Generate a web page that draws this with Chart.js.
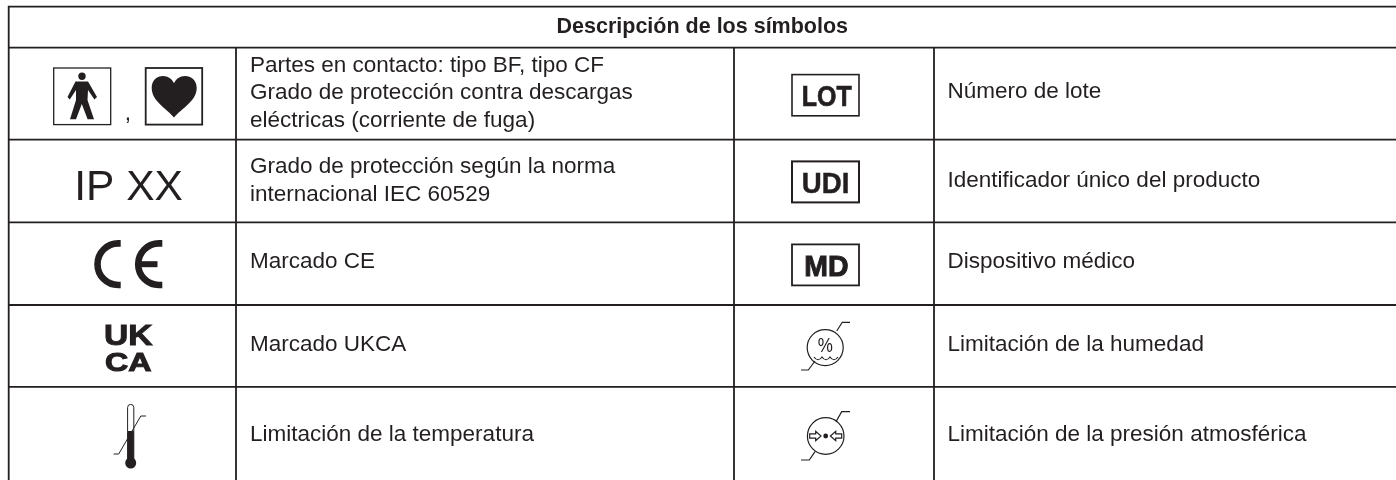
<!DOCTYPE html>
<html lang="es"><head><meta charset="utf-8">
<style>html,body{margin:0;padding:0;background:#fff}canvas{display:block}</style>
<script src="https://cdn.jsdelivr.net/npm/chart.js@4"></script></head>
<body><canvas id="c" width="1396" height="480"></canvas>
<script>
const title = "Descripción de los símbolos";
const leftDescriptions = [
  ["Partes en contacto: tipo BF, tipo CF","Grado de protección contra descargas","eléctricas (corriente de fuga)"],
  ["Grado de protección según la norma","internacional IEC 60529"],
  ["Marcado CE"],["Marcado UKCA"],["Limitación de la temperatura"]];
const rightDescriptions = ["Número de lote","Identificador único del producto","Dispositivo médico","Limitación de la humedad","Limitación de la presión atmosférica"];
const rowEdges = [6.6,47.6,139.7,222.4,305,386.8,480];
const colEdges = [8.7,236,734,934,1396];
const INK = "#231f20";

function ruleData(){
  const d=[];
  for(let i=0;i<6;i++){ d.push({x:colEdges[0],y:rowEdges[i]},{x:colEdges[4],y:rowEdges[i]},{x:null,y:null}); }
  d.push({x:colEdges[0],y:rowEdges[0]-.8},{x:colEdges[0],y:rowEdges[6]},{x:null,y:null});
  for(let j=1;j<4;j++){ d.push({x:colEdges[j],y:rowEdges[1]},{x:colEdges[j],y:rowEdges[6]},{x:null,y:null}); }
  return d;
}
function stroke(c,lw,pts){c.lineWidth=lw;c.beginPath();pts.forEach((p,i)=>i?c.lineTo(p[0],p[1]):c.moveTo(p[0],p[1]));c.stroke();}
function fill(c,pts){c.beginPath();pts.forEach((p,i)=>i?c.lineTo(p[0],p[1]):c.moveTo(p[0],p[1]));c.closePath();c.fill();}
function stretched(c,t,cx,base,font,sx,extra){c.save();c.font=font;c.translate(cx,base);c.scale(sx,1);c.textAlign="center";c.textBaseline="alphabetic";c.fillText(t,0,0);if(extra){c.lineWidth=extra;c.lineJoin="miter";c.strokeText(t,0,0);}c.restore();}

const symbols = {
 person(c){ c.lineWidth=1.3;c.strokeRect(53.7,68,57,56.6);
   c.beginPath();c.arc(82,76.3,3.7,0,7);c.fill();
   fill(c,[[75.5,81.5],[88,81.5],[97,97],[94.4,99.5],[88,90],[87.5,100],[94,119.3],[87.6,119.3],[81.8,104],[76,119.3],[70,119.3],[76,100],[76,90],[69.8,99.5],[67.5,97]]);
 },
 comma(c){ c.font="22.5px 'Liberation Sans'";c.textAlign="center";c.fillText(",",128,120); },
 heart(c){ c.lineWidth=1.8;c.strokeRect(145.7,68,56.5,56.6);
   c.beginPath();c.moveTo(174,117.5);c.bezierCurveTo(166,108,151.7,101,151.7,88);c.bezierCurveTo(151.7,80,157,76,163,76);c.bezierCurveTo(168,76,172,79,174,83.3);c.bezierCurveTo(176,79,180,76,185,76);c.bezierCurveTo(191,76,196.7,80,196.7,88);c.bezierCurveTo(196.7,101,182,108,174,117.5);c.fill();
 },
 ip(c){ c.font="42.5px 'Liberation Sans'";c.textAlign="center";c.fillText("IP XX",128.5,200); },
 ce(c){ c.lineWidth=6.6;
   c.beginPath();c.moveTo(120.7,243.4);c.lineTo(118.3,243.4);c.arc(118.3,264.2,20.8,-Math.PI/2,Math.PI/2,true);c.lineTo(120.7,285);c.stroke();
   c.beginPath();c.moveTo(162.3,243.4);c.lineTo(159,243.4);c.arc(159,264.2,20.8,-Math.PI/2,Math.PI/2,true);c.lineTo(162.3,285);c.stroke();
   c.fillRect(140,261.2,17.5,6);
 },
 ukca(c){ stretched(c,"UK",128.2,345,"bold 30px 'Liberation Sans'",1.12,1);stretched(c,"CA",128.2,371,"bold 26px 'Liberation Sans'",1.24,1); },
 thermo(c){ c.lineWidth=1;
   c.beginPath();c.moveTo(127.6,462);c.lineTo(127.6,407.5);c.arc(130.7,407.5,3.1,Math.PI,0);c.lineTo(133.8,462);c.stroke();
   c.fillRect(127.6,431,6.2,30);c.beginPath();c.arc(130.7,463,5.5,0,7);c.fill();
   stroke(c,1,[[113.7,454],[118.7,454],[140.8,416],[146,416]]);
 },
 lot(c){ c.lineWidth=1.6;c.strokeRect(792,74.6,67,41.2);stretched(c,"LOT",826.7,106,"bold 29px 'Liberation Sans'",.86,.7); },
 udi(c){ c.lineWidth=2;c.strokeRect(792,161.4,67,41);stretched(c,"UDI",825.6,193,"bold 30px 'Liberation Sans'",.92,.5); },
 md(c){ c.lineWidth=1.8;c.strokeRect(792,244.4,67,41);stretched(c,"MD",826.3,275.5,"bold 29px 'Liberation Sans'",.98,1); },
 humid(c){ const x=825.2,y=347.6; c.lineWidth=1.2;
   c.beginPath();c.arc(x,y,18,0,7);c.stroke();
   stroke(c,1.2,[[836.7,331],[842.3,322.3],[850,322.3]]);stroke(c,1.2,[[815,361],[808.3,370],[801,370]]);
   c.beginPath();c.moveTo(814,357);for(let i=0;i<3;i++){c.quadraticCurveTo(814+i*8+4,362.5,814+(i+1)*8,357);}c.stroke();
   stretched(c,"%",x,352,"20px 'Liberation Sans'",.85,0);
 },
 press(c){ const x=825.7,y=436; c.lineWidth=1.2;
   c.beginPath();c.arc(x,y,18.3,0,7);c.stroke();
   stroke(c,1.2,[[836,421.7],[841.7,411.7],[850,411.7]]);stroke(c,1.2,[[815,451.7],[809.3,460],[801,460]]);
   c.beginPath();c.arc(x,y,2.4,0,7);c.fill();
   [-1,1].forEach(s=>{const P=(a,b)=>[x+s*a,y+b];c.beginPath();[P(-16,-2.2),P(-10,-2.2),P(-10,-4.7),P(-4.7,0),P(-10,4.7),P(-10,2.2),P(-16,2.2)].forEach((p,i)=>i?c.lineTo(p[0],p[1]):c.moveTo(p[0],p[1]));c.closePath();c.stroke();});
 }
};

const tablePlugin = {
 id:"table",
 afterDatasetsDraw(chart){
  const c=chart.ctx,X=chart.scales.x,Y=chart.scales.y;
  c.save();c.fillStyle=INK;c.strokeStyle=INK;c.textBaseline="alphabetic";
  c.font="bold 21.5px 'Liberation Sans'";c.textAlign="center";
  c.fillText(title,X.getPixelForValue(702.3),Y.getPixelForValue(33));
  c.font="22.5px 'Liberation Sans'";c.textAlign="left";
  const leftBases=[[71.7,99,127],[172.7,200.7],[268.3],[350.7],[440.7]];
  leftDescriptions.forEach((lines,r)=>lines.forEach((t,i)=>c.fillText(t,X.getPixelForValue(250),Y.getPixelForValue(leftBases[r][i]))));
  const rightBases=[98.3,186.7,268.3,350.7,440.7];
  rightDescriptions.forEach((t,r)=>c.fillText(t,X.getPixelForValue(947.5),Y.getPixelForValue(rightBases[r])));
  Object.values(symbols).forEach(fn=>{c.save();c.lineWidth=1.2;fn(c);c.restore();});
  c.restore();
 }
};

new Chart(document.getElementById("c"),{
 type:"scatter",
 data:{datasets:[{label:"rules",data:ruleData(),showLine:true,spanGaps:false,borderColor:INK,borderWidth:1.8,pointRadius:0,tension:0}]},
 options:{responsive:false,animation:false,devicePixelRatio:1,layout:{padding:0},
  plugins:{legend:{display:false},tooltip:{enabled:false},title:{display:false}},
  scales:{x:{type:"linear",min:0,max:1396,display:false},y:{type:"linear",min:0,max:480,reverse:true,display:false}}},
 plugins:[tablePlugin]
});
</script></body></html>
